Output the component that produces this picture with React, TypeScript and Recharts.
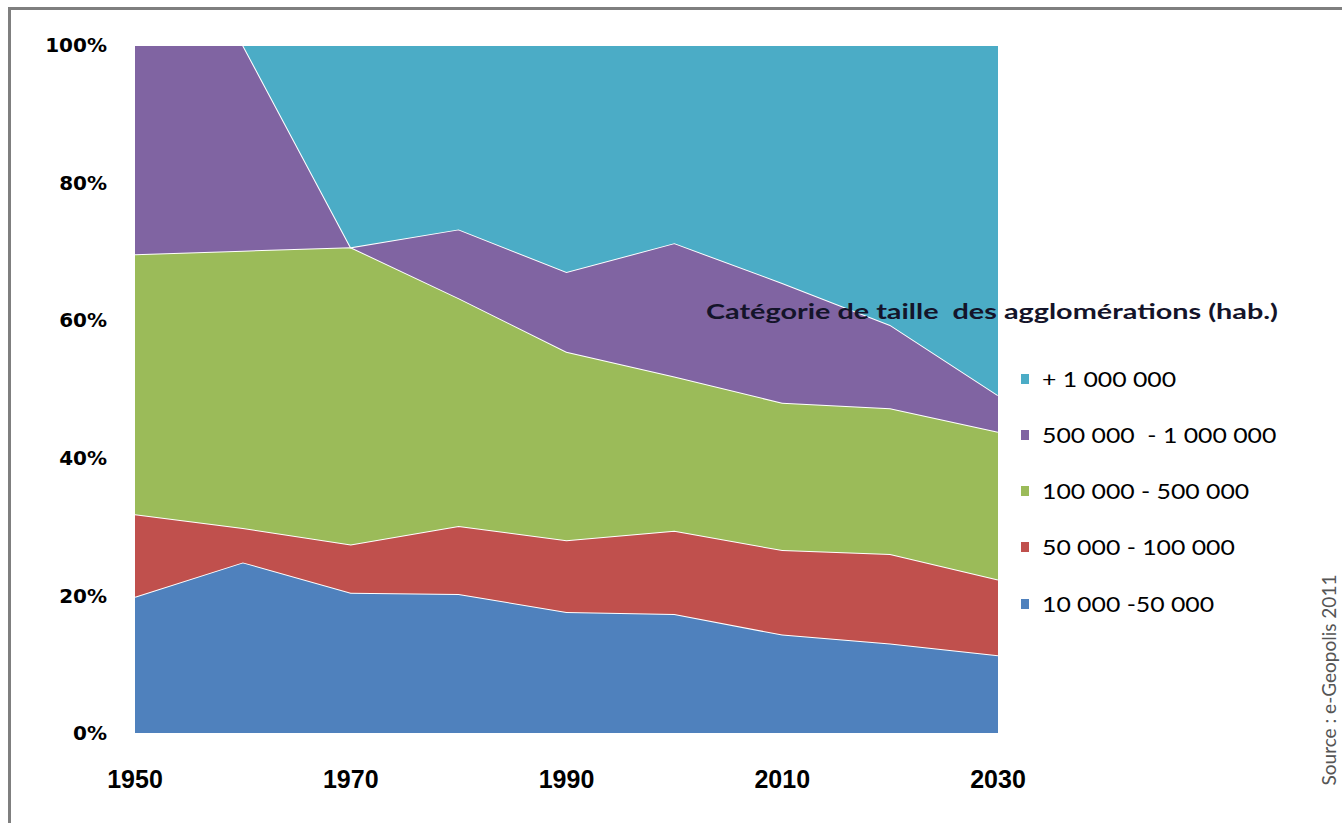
import React from 'react';
import { AreaChart, Area, XAxis, YAxis } from 'recharts';

const years = [1950, 1960, 1970, 1980, 1990, 2000, 2010, 2020, 2030];
const s10k50k = [19.8, 24.8, 20.4, 20.2, 17.6, 17.3, 14.3, 13.0, 11.3];
const s50k100k = [12.0, 5.0, 7.0, 9.9, 10.4, 12.1, 12.3, 13.0, 11.0];
const s100k500k = [37.8, 40.3, 43.2, 33.1, 27.4, 22.4, 21.4, 21.2, 21.5];
const s500k1m = [30.4, 29.9, 0, 10.0, 11.6, 19.4, 17.4, 12.1, 5.3];
const s1m = [0, 0, 29.4, 26.8, 33.0, 28.8, 34.6, 40.7, 50.9];

const yTicks = [0, 0.2, 0.4, 0.6, 0.8, 1];
const xTicks = [1950, 1970, 1990, 2010, 2030];

const seriesKeys = ['a', 'b', 'c', 'd', 'e'];
const seriesNames = ['10 000 -50 000', '50 000 - 100 000', '100 000 - 500 000', '500 000  - 1 000 000', '+ 1 000 000'];
const seriesColors = ['#4F81BD', '#C0504D', '#9BBB59', '#8064A2', '#4BACC6'];
const seriesValues = [s10k50k, s50k100k, s100k500k, s500k1m, s1m];

const legendTitle = 'Catégorie de taille  des agglomérations (hab.)';
const sourceText = 'Source : e-Geopolis 2011';

const data = years.map((y, i) => {
  const row: any = { year: y };
  seriesKeys.forEach((k, j) => {
    row[k] = seriesValues[j][i];
  });
  return row;
});

const legendOrder = [4, 3, 2, 1, 0];

export default function App() {
  return (
    <div style={{ position: 'absolute', left: 0, top: 0, width: 1342, height: 823, overflow: 'hidden', background: '#fff' }}>
      <div style={{ position: 'absolute', left: 8, top: 7, width: 1500, height: 1000, borderLeft: '3.5px solid #7f7f7f', borderTop: '3px solid #7f7f7f' }} />
      <div style={{ position: 'absolute', left: 0, top: 0 }}>
        <AreaChart width={1342} height={823} data={data} stackOffset="expand" margin={{ top: 45, right: 344, bottom: 30, left: 35 }}>
          <XAxis
            dataKey="year"
            ticks={xTicks}
            interval={0}
            axisLine={false}
            tickLine={false}
            tickSize={0}
            tickMargin={37}
            height={60}
            tick={{ fill: '#000', fontFamily: 'Liberation Sans', fontWeight: 'bold', fontSize: 25 }}
          />
          <YAxis
            type="number"
            domain={[0, 1]}
            ticks={yTicks}
            width={100}
            axisLine={false}
            tickLine={false}
            tickSize={0}
            tickMargin={28}
            tickFormatter={(v: number) => `${Math.round(v * 100)}%`}
            tick={{ fill: '#000', fontFamily: 'DejaVu Sans', fontWeight: 'bold', fontSize: 20 }}
          />
          {seriesKeys.map((k, j) => (
            <Area
              key={k}
              type="linear"
              dataKey={k}
              name={seriesNames[j]}
              stackId="1"
              fill={seriesColors[j]}
              fillOpacity={1}
              stroke="#ffffff"
              strokeWidth={2}
              isAnimationActive={false}
              dot={false}
              activeDot={false}
            />
          ))}
        </AreaChart>
      </div>
      <div style={{ position: 'absolute', left: 706, top: 299, fontFamily: 'Lato', fontWeight: 'bold', fontSize: 21.5, lineHeight: 1.2, color: '#14142a', whiteSpace: 'pre', transform: 'scaleX(1.34)', transformOrigin: 'left center' }}>
        {legendTitle}
      </div>
      {legendOrder.map((j, i) => (
        <div key={j} style={{ position: 'absolute', left: 1021, top: 366.5 + i * 56.3, height: 24, whiteSpace: 'pre' }}>
          <div style={{ position: 'absolute', left: 0, top: 7, width: 8, height: 10, background: seriesColors[j] }} />
          <div style={{ position: 'absolute', left: 21, top: 0, fontFamily: 'Lato', fontSize: 20.5, lineHeight: 1.2, color: '#000', transform: 'scaleX(1.21)', transformOrigin: 'left center' }}>
            {seriesNames[j]}
          </div>
        </div>
      ))}
      <div style={{ position: 'absolute', left: 1329 - 130, top: 680 - 11, width: 260, height: 22, lineHeight: '22px', fontFamily: 'Lato', fontSize: 19, color: '#555', textAlign: 'center', whiteSpace: 'pre', transform: 'rotate(-90deg)', transformOrigin: 'center center' }}>
        {sourceText}
      </div>
    </div>
  );
}
